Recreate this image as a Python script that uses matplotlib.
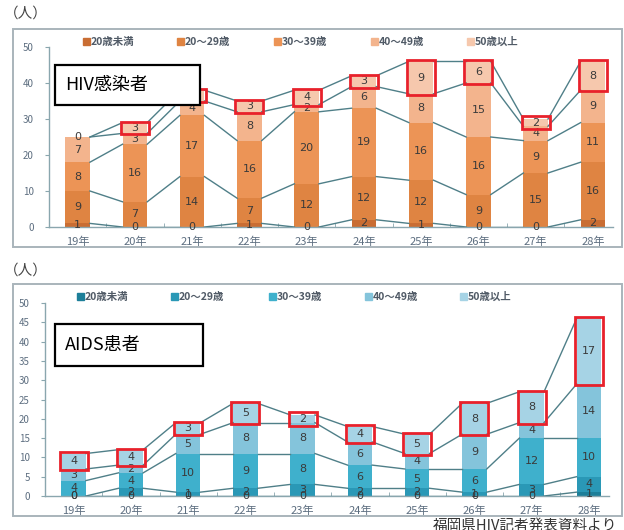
import matplotlib
matplotlib.use("Agg")
import matplotlib.pyplot as plt
from matplotlib.patches import Rectangle
from matplotlib.transforms import Bbox
import numpy as np

plt.rcParams["font.family"] = ["Noto Sans CJK JP", "DejaVu Sans"]

years = ["19年", "20年", "21年", "22年", "23年", "24年", "25年", "26年", "27年", "28年"]
age_groups = ["20歳未満", "20〜29歳", "30〜39歳", "40〜49歳", "50歳以上"]

# HIV感染者 (人)
hiv_u20 = [1, 0, 0, 1, 0, 2, 1, 0, 0, 2]
hiv_20s = [9, 7, 14, 7, 12, 12, 12, 9, 15, 16]
hiv_30s = [8, 16, 17, 16, 20, 19, 16, 16, 9, 11]
hiv_40s = [7, 3, 4, 8, 2, 6, 8, 15, 4, 9]
hiv_50p = [0, 3, 3, 3, 4, 3, 9, 6, 2, 8]

# AIDS患者 (人)
aids_u20 = [0, 0, 0, 0, 0, 0, 0, 0, 0, 1]
aids_20s = [0, 2, 1, 2, 3, 2, 2, 1, 3, 4]
aids_30s = [4, 4, 10, 9, 8, 6, 5, 6, 12, 10]
aids_40s = [3, 2, 5, 8, 8, 6, 4, 9, 4, 14]
aids_50p = [4, 4, 3, 5, 2, 4, 5, 8, 8, 17]

hiv_colors = ["#c96d33", "#df8442", "#ec9456", "#f3b48d", "#f6c8ad"]
aids_colors = ["#1d7f99", "#2a98b6", "#3fb0cc", "#84c4db", "#a6d3e5"]

W, H = 624, 530
fig = plt.figure(figsize=(W / 100, H / 100), dpi=100)


def fx(px):
    return px / W


def fy(py):
    return 1 - py / H


def draw_panel(rect, series, colors, ylim_step, title, title_box,
               legend_y, legend_x, unit_y, frame, label_cut, lbl_x):
    ax = fig.add_axes(rect)
    x = np.arange(len(years))
    bw = 0.43
    bottoms = np.zeros(len(years))
    tops = []
    for vals, c in zip(series, colors):
        vals = np.array(vals)
        ax.bar(x, vals, bw, bottom=bottoms, color=c, edgecolor="none", zorder=2)
        for i in range(len(x)):
            ax.text(x[i], bottoms[i] + vals[i] / 2, str(vals[i]), ha="center",
                    va="center", fontsize=8, color="#3a3a3a", zorder=5,
                    family=["DejaVu Sans"])
        bottoms = bottoms + vals
        tops.append(bottoms.copy())

    # series lines between neighbouring columns
    for lvl in tops:
        for i in range(len(x) - 1):
            ax.plot([x[i] + bw / 2, x[i + 1] - bw / 2], [lvl[i], lvl[i + 1]],
                    color="#4f7f88", lw=1.0, zorder=3)

    # red frames around the 50歳以上 segment
    top_vals = series[-1]
    for i in range(len(x)):
        if top_vals[i] == 0:
            continue
        lo = tops[-2][i]
        hi = tops[-1][i]
        if hi - lo < 3:
            mid = (hi + lo) / 2
            lo, hi = mid - 1.5, mid + 1.5
        ax.add_patch(Rectangle((x[i] - bw / 2 - 0.03, lo - 0.3),
                               bw + 0.06, hi - lo + 0.6, fill=False,
                               edgecolor="#e8212b", lw=2.0, zorder=6))

    ax.set_xlim(-0.5, 9.35)
    ax.set_ylim(0, 50)
    ax.set_yticks(np.arange(0, 51, ylim_step))
    ax.tick_params(axis="y", labelsize=7, colors="#5d6e80", length=3,
                   direction="out", pad=8)
    ax.tick_params(axis="y", color="#8aa6ae")
    ax.set_xticks(x)
    ax.set_xticklabels(years, fontsize=8, color="#5d6e80")
    ax.tick_params(axis="x", length=0, pad=7)
    ax.set_xticks(np.arange(-0.5, 9.5, 1), minor=True)
    ax.tick_params(axis="x", which="minor", length=3, color="#8aa6ae",
                   direction="in")
    for s in ["top", "right"]:
        ax.spines[s].set_visible(False)
    for s in ["left", "bottom"]:
        ax.spines[s].set_color("#8aa6ae")
        ax.spines[s].set_linewidth(1.0)
    ax.patch.set_alpha(0)

    # year labels run into the lower edge of the frame
    cut = Bbox.from_extents(0, (H - label_cut), W, H)
    for lab in ax.get_xticklabels():
        lab.set_clip_box(cut)
        lab.set_clip_on(True)

    # outer frame of the panel
    fx0, fy0, fx1, fy1 = frame
    fig.patches.append(Rectangle((fx(fx0), fy(fy1)), fx(fx1 - fx0), (fy1 - fy0) / H,
                                 transform=fig.transFigure, fill=False,
                                 edgecolor="#a9b4bb", lw=1.4))

    # legend
    for name, c, lx in zip(age_groups, colors, legend_x):
        fig.patches.append(Rectangle((fx(lx - 3), fy(legend_y + 3)), fx(7), 7 / H,
                                     transform=fig.transFigure, color=c))
        fig.text(fx(lx + 5), fy(legend_y), name, fontsize=7.5, color="#505a66",
                 va="center", ha="left", weight="bold")

    # title box
    bx0, by0, bx1, by1 = title_box
    fig.patches.append(Rectangle((fx(bx0), fy(by1)), fx(bx1 - bx0), (by1 - by0) / H,
                                 transform=fig.transFigure, facecolor="white",
                                 edgecolor="black", lw=1.6, zorder=10))
    fig.text(fx(bx0 + 10), fy((by0 + by1) / 2), title, fontsize=13,
             va="center", ha="left", color="black", zorder=11)

    fig.text(fx(lbl_x), fy(unit_y), "（人）", fontsize=10.5, color="#444444",
             va="center", ha="left")
    return ax


draw_panel([fx(49), fy(227), fx(613) - fx(49), 180 / H],
           [hiv_u20, hiv_20s, hiv_30s, hiv_40s, hiv_50p], hiv_colors, 10,
           "HIV感染者", (55, 65, 200, 105), 42, [86, 180, 277, 374, 470],
           14, (13, 29, 622, 247), 247, 4)

draw_panel([fx(45), fy(496), fx(609) - fx(45), 193 / H],
           [aids_u20, aids_20s, aids_30s, aids_40s, aids_50p], aids_colors, 5,
           "AIDS患者", (55, 324, 203, 366), 297, [80, 174, 272, 368, 463],
           271, (13, 284, 622, 516), 516, 4)

fig.text(fx(433), fy(519), "福岡県HIV記者発表資料より", fontsize=10.5,
         va="top", ha="left", color="#333333")

fig.savefig("out.png", dpi=100)
